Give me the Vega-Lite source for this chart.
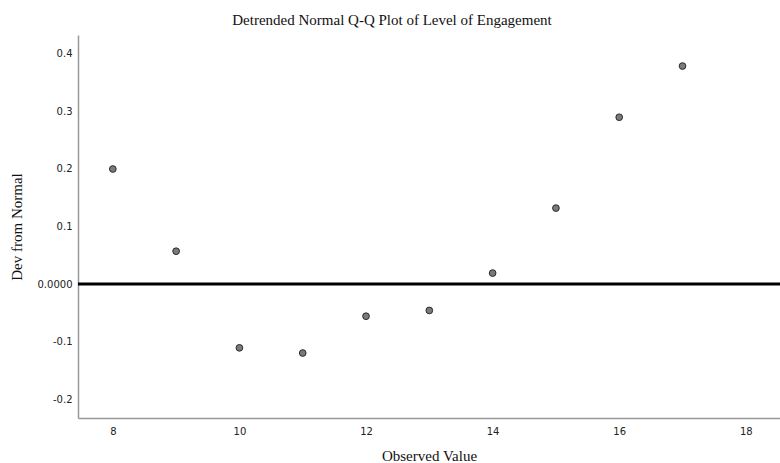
{
  "$schema": "https://vega.github.io/schema/vega-lite/v6.json",
  "width": 702,
  "height": 383,
  "autosize": "none",
  "padding": {"left": 78, "top": 35, "right": 0, "bottom": 45},
  "background": "white",
  "title": {
    "text": "Detrended Normal Q-Q Plot of Level of Engagement",
    "font": "Liberation Serif",
    "fontSize": 15,
    "fontWeight": "normal",
    "color": "#111",
    "dx": -37,
    "offset": 7
  },
  "config": {"view": {"stroke": null}},
  "layer": [
    {
      "data": {"values": [{"dev": 0}]},
      "mark": {"type": "rule", "color": "black", "strokeWidth": 3},
      "encoding": {
        "y": {"field": "dev", "type": "quantitative", "scale": {"domain": [-0.233, 0.433], "nice": false, "zero": false}}
      }
    },
    {
      "data": {"values": [
        {"observed": 8, "dev": 0.200},
        {"observed": 9, "dev": 0.057},
        {"observed": 10, "dev": -0.111},
        {"observed": 11, "dev": -0.120},
        {"observed": 12, "dev": -0.056},
        {"observed": 13, "dev": -0.046},
        {"observed": 14, "dev": 0.019},
        {"observed": 15, "dev": 0.132},
        {"observed": 16, "dev": 0.290},
        {"observed": 17, "dev": 0.379}
      ]},
      "mark": {"type": "point", "filled": true, "shape": "circle", "size": 45, "fill": "#7a7a7a", "stroke": "#2a2a2a", "strokeWidth": 1, "opacity": 1},
      "encoding": {
        "x": {
          "field": "observed", "type": "quantitative",
          "scale": {"domain": [7.45, 18.54], "nice": false, "zero": false},
          "axis": {
            "title": "Observed Value",
            "titleFont": "Liberation Serif", "titleFontSize": 15, "titleFontWeight": "normal", "titleColor": "#111",
            "titlePadding": 12,
            "values": [8, 10, 12, 14, 16, 18],
            "labelFont": "DejaVu Sans", "labelFontSize": 10, "labelColor": "#222",
            "labelPadding": 8,
            "ticks": false, "grid": false,
            "domainColor": "#999", "domainWidth": 1.5
          }
        },
        "y": {
          "field": "dev", "type": "quantitative",
          "scale": {"domain": [-0.233, 0.433], "nice": false, "zero": false},
          "axis": {
            "title": "Dev from Normal",
            "titleFont": "Liberation Serif", "titleFontSize": 15, "titleFontWeight": "normal", "titleColor": "#111",
            "titlePadding": 13,
            "values": [-0.2, -0.1, 0, 0.1, 0.2, 0.3, 0.4],
            "labelExpr": "datum.value == 0 ? '0.0000' : (datum.value < 0 ? '-' : '') + format(abs(datum.value), '.1f')",
            "labelFont": "DejaVu Sans", "labelFontSize": 10, "labelColor": "#222",
            "labelPadding": 6,
            "ticks": false, "grid": false,
            "domainColor": "#999", "domainWidth": 1.5
          }
        }
      }
    }
  ]
}
